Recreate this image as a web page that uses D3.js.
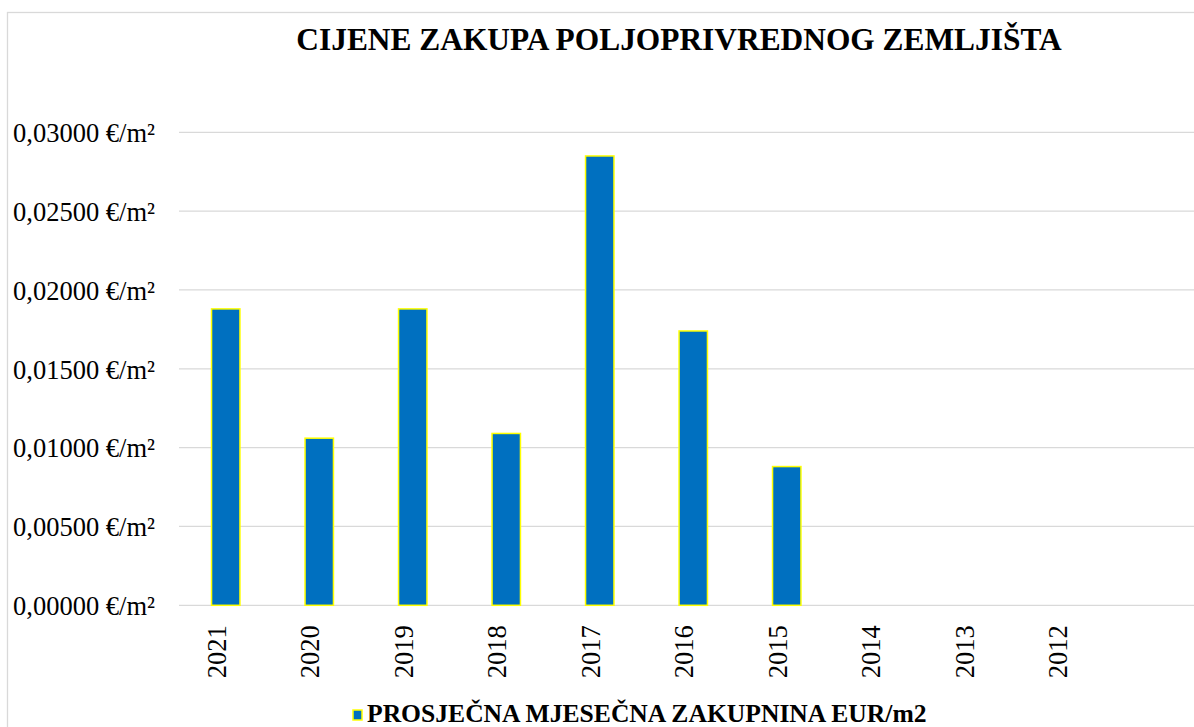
<!DOCTYPE html>
<html>
<head>
<meta charset="utf-8">
<script src="https://cdn.jsdelivr.net/npm/d3@7"></script>
<style>
  html, body { margin: 0; padding: 0; background: #fff; }
  svg text { font-family: "Liberation Serif", "Times New Roman", Tinos, Times, serif; }
</style>
</head>
<body>
<svg id="chart" width="1194" height="727"></svg>
<script>
// Average monthly lease price of agricultural land, EUR per m²
const years = ["2021", "2020", "2019", "2018", "2017", "2016", "2015", "2014", "2013", "2012"];
const prices = [0.0188, 0.0106, 0.0188, 0.0109, 0.0285, 0.0174, 0.0088, null, null, null];
const yTicks = [0, 0.005, 0.01, 0.015, 0.02, 0.025, 0.03];
const titleText = "CIJENE ZAKUPA POLJOPRIVREDNOG ZEMLJIŠTA";
const seriesName = "PROSJEČNA MJESEČNA ZAKUPNINA EUR/m2";

const W = 1194, H = 727;
const plot = { left: 179, top: 132.3, bottom: 605.3, right: 1200 };
const step = 93.5;

const svg = d3.select("#chart");

// outer chart frame
svg.append("rect")
  .attr("x", 7.5).attr("y", 12.5)
  .attr("width", W + 20).attr("height", H + 20)
  .attr("fill", "#fff").attr("stroke", "#d9d9d9").attr("stroke-width", 1.3);

const x = d3.scaleBand()
  .domain(years)
  .range([plot.left, plot.left + step * years.length])
  .paddingInner(0.68)
  .paddingOuter(0.34);

const y = d3.scaleLinear().domain([0, 0.03]).range([plot.bottom, plot.top]);

const locale = d3.formatLocale({ decimal: ",", thousands: ".", grouping: [3], currency: ["", " €"] });
const fmt = locale.format(".5f");

// horizontal gridlines
svg.append("g")
  .selectAll("line")
  .data(yTicks)
  .join("line")
  .attr("x1", plot.left).attr("x2", plot.right)
  .attr("y1", d => y(d)).attr("y2", d => y(d))
  .attr("stroke", "#d9d9d9").attr("stroke-width", 1.3);

// y axis labels
const yAxis = d3.axisLeft(y).tickValues(yTicks).tickSize(0).tickPadding(0)
  .tickFormat(d => fmt(d) + " €/m²");
svg.append("g")
  .attr("transform", `translate(155,0)`)
  .call(yAxis)
  .attr("font-family", null)
  .attr("font-size", null)
  .call(g => g.select(".domain").remove())
  .call(g => g.selectAll("text")
    .attr("font-size", 26.5)
    .attr("fill", "#000")
    .attr("dy", "0.35em"));

// bars
svg.append("g")
  .selectAll("rect")
  .data(years.map((yr, i) => ({ yr, v: prices[i] })).filter(d => d.v != null))
  .join("rect")
  .attr("x", d => x(d.yr) + 0.75)
  .attr("width", x.bandwidth() - 1.5)
  .attr("y", d => y(d.v))
  .attr("height", d => y(0) - y(d.v))
  .attr("fill", "#0070C0")
  .attr("stroke", "#FFFF00")
  .attr("stroke-width", 1.5);

// x axis labels, rotated
const xAxis = d3.axisBottom(x).tickSize(0).tickPadding(0);
svg.append("g")
  .attr("transform", `translate(0,${plot.bottom})`)
  .call(xAxis)
  .attr("font-family", null)
  .attr("font-size", null)
  .call(g => g.select(".domain").remove())
  .call(g => g.selectAll("text")
    .attr("font-size", 26.5)
    .attr("fill", "#000")
    .attr("text-anchor", "end")
    .attr("dy", 0)
    .attr("y", 0)
    .attr("transform", "translate(0,20) rotate(-90)"));

// title
svg.append("text")
  .attr("x", 679).attr("y", 50)
  .attr("text-anchor", "middle")
  .attr("font-weight", "bold")
  .attr("font-size", 31.4)
  .text(titleText);

// legend
const lg = svg.append("g").attr("transform", "translate(353,710)");
lg.append("rect")
  .attr("width", 9).attr("height", 10)
  .attr("fill", "#0070C0").attr("stroke", "#FFFF00").attr("stroke-width", 1.5);
lg.append("text")
  .attr("x", 14).attr("y", 11.5)
  .attr("font-weight", "bold")
  .attr("font-size", 25.6)
  .text(seriesName);
</script>
</body>
</html>
